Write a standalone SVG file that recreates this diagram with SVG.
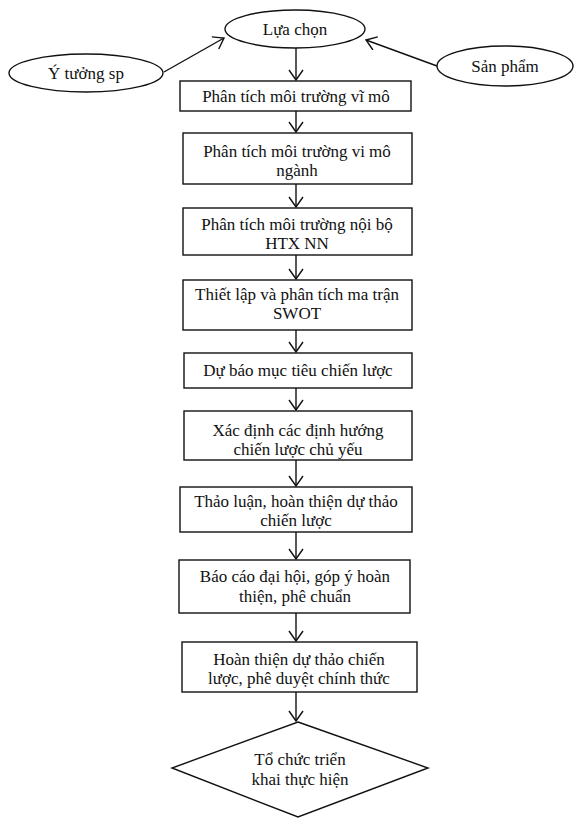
<svg xmlns="http://www.w3.org/2000/svg" width="576" height="819" viewBox="0 0 576 819">
<defs>
<style>
.s{fill:#fff;stroke:#111;stroke-width:1.4}
.t{font-family:"Liberation Serif","Times New Roman",serif;font-size:17px;fill:#111;text-anchor:middle}
.c{stroke:#111;stroke-width:1.4;fill:none}
</style>
<marker id="a" markerUnits="userSpaceOnUse" markerWidth="14" markerHeight="16" refX="11" refY="7.5" orient="auto">
<path d="M1,0.5 L11,7.5 L1,14.5" fill="none" stroke="#111" stroke-width="1.4"/>
</marker>
</defs>
<rect width="576" height="819" fill="#fff"/>
<g id="connectors">
<line class="c" x1="164" y1="72" x2="224" y2="38" marker-end="url(#a)"/>
<line class="c" x1="437" y1="66" x2="366" y2="40" marker-end="url(#a)"/>
<line class="c" x1="296" y1="48" x2="296" y2="80" marker-end="url(#a)"/>
<line class="c" x1="296" y1="111" x2="296" y2="132" marker-end="url(#a)"/>
<line class="c" x1="296" y1="184" x2="296" y2="207" marker-end="url(#a)"/>
<line class="c" x1="296" y1="255" x2="296" y2="279" marker-end="url(#a)"/>
<line class="c" x1="296" y1="330" x2="296" y2="352" marker-end="url(#a)"/>
<line class="c" x1="296" y1="388" x2="296" y2="410" marker-end="url(#a)"/>
<line class="c" x1="296" y1="460" x2="296" y2="486" marker-end="url(#a)"/>
<line class="c" x1="296" y1="532" x2="296" y2="559" marker-end="url(#a)"/>
<line class="c" x1="296" y1="613" x2="296" y2="641" marker-end="url(#a)"/>
<line class="c" x1="296" y1="692" x2="296" y2="721" marker-end="url(#a)"/>
</g>
<g id="lua-chon"><ellipse class="s" cx="295" cy="29" rx="70" ry="19"/><text class="t" x="295" y="35">Lựa chọn</text></g>
<g id="y-tuong"><ellipse class="s" cx="86" cy="73" rx="77" ry="19"/><text class="t" x="86" y="79">Ý tưởng sp</text></g>
<g id="san-pham"><ellipse class="s" cx="505" cy="66" rx="68" ry="20"/><text class="t" x="505" y="72">Sản phẩm</text></g>
<g id="b1"><rect class="s" x="180" y="81" width="231" height="30"/><text class="t" x="296" y="102">Phân tích môi trường vĩ mô</text></g>
<g id="b2"><rect class="s" x="183" y="133" width="229" height="51"/><text class="t" x="297" y="157">Phân tích môi trường vi mô</text><text class="t" x="297" y="176">ngành</text></g>
<g id="b3"><rect class="s" x="183" y="208" width="229" height="47"/><text class="t" x="297" y="230">Phân tích môi trường nội bộ</text><text class="t" x="297" y="249">HTX NN</text></g>
<g id="b4"><rect class="s" x="183" y="280" width="229" height="50"/><text class="t" x="297" y="300">Thiết lập và phân tích ma trận</text><text class="t" x="297" y="319">SWOT</text></g>
<g id="b5"><rect class="s" x="184" y="353" width="228" height="35"/><text class="t" x="298" y="376">Dự báo mục tiêu chiến lược</text></g>
<g id="b6"><rect class="s" x="184" y="411" width="228" height="49"/><text class="t" x="298" y="436">Xác định các định hướng</text><text class="t" x="298" y="455">chiến lược chủ yếu</text></g>
<g id="b7"><rect class="s" x="180" y="487" width="232" height="45"/><text class="t" x="296" y="507">Thảo luận, hoàn thiện dự thảo</text><text class="t" x="296" y="526">chiến lược</text></g>
<g id="b8"><rect class="s" x="179" y="560" width="231" height="53"/><text class="t" x="295" y="582">Báo cáo đại hội, góp ý hoàn</text><text class="t" x="295" y="602">thiện, phê chuẩn</text></g>
<g id="b9"><rect class="s" x="182" y="642" width="235" height="50"/><text class="t" x="299" y="665">Hoàn thiện dự thảo chiến</text><text class="t" x="299" y="684">lược, phê duyệt chính thức</text></g>
<g id="d"><polygon class="s" points="298,722 428,768 298,817 172,768"/><text class="t" x="300" y="765">Tổ chức triển</text><text class="t" x="300" y="785">khai thực hiện</text></g>
</svg>
